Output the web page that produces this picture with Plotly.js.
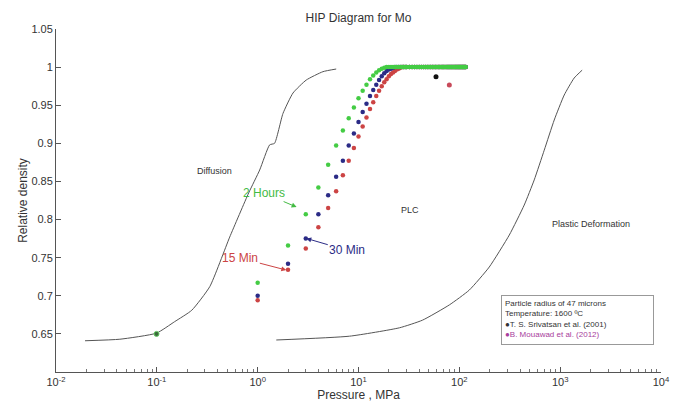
<!DOCTYPE html>
<html><head><meta charset="utf-8">
<script src="https://cdn.plot.ly/plotly-3.0.1.min.js"></script>
<style>html,body{margin:0;padding:0;background:#fff}</style>
</head><body><div id="chart" style="width:678px;height:408px"></div>
<script>
// Boundary curves (pressure in MPa, relative density)
const diffusionP = [0.0194, 0.043, 0.0993, 0.15, 0.222, 0.335, 0.528, 0.815, 1.047, 1.315, 1.47, 1.78, 2.24, 3.03, 4.44, 6.01];
const diffusionD = [0.641, 0.643, 0.651, 0.666, 0.681, 0.712, 0.777, 0.835, 0.865, 0.898, 0.900, 0.939, 0.966, 0.983, 0.994, 0.9975];
const plasticP = [1.53, 8.15, 25.5, 43.1, 79.6, 125.6, 198, 313, 440, 553, 695, 873, 1097, 1377, 1652];
const plasticD = [0.642, 0.647, 0.658, 0.668, 0.688, 0.7075, 0.7377, 0.7797, 0.819, 0.852, 0.891, 0.9306, 0.9634, 0.9857, 0.996];

// Computed densification points
const pressure = [1,2,3,4,5,6,7,8,9,10,11,12,13,14,15,16,17,18,19,20,21,22,23,24,25,26,27,28,29,30,
  32,34,36,38,40,42,44,46,48,50,52,54,56,58,60,62,64,66,68,70,72,74,76,78,80,82,84,86,88,90,92,94,96,98,100,102,104,106,108,110,112,114,116];
const density2h = [0.717,0.766,0.807,0.842,0.872,0.897,0.917,0.933,0.947,0.959,0.969,0.977,0.984,0.989,0.993,0.996,0.998,0.999,1,1,1,1,1,1,1,1,1,1,1,1,
  1,1,1,1,1,1,1,1,1,1,1,1,1,1,1,1,1,1,1,1,1,1,1,1,1,1,1,1,1,1,1,1,1,1,1,1,1,1,1,1,1,1,1];
const density30min = [0.700,0.742,0.775,0.807,0.832,0.856,0.877,0.897,0.913,0.928,0.941,0.952,0.962,0.970,0.977,0.983,0.988,0.992,0.995,0.997,0.998,0.999,1,1,1,1,1,1,1,1,
  1,1,1,1,1,1,1,1,1,1,1,1,1,1,1,1,1,1,1,1,1,1,1,1,1,1,1,1,1,1,1,1,1,1,1,1,1,1,1,1,1,1,1];
const density15min = [0.694,0.734,0.762,0.790,0.815,0.837,0.858,0.877,0.894,0.909,0.922,0.934,0.945,0.954,0.962,0.969,0.975,0.980,0.984,0.988,0.991,0.993,0.995,0.997,0.998,0.999,1,1,1,1,
  1,1,1,1,1,1,1,1,1,1,1,1,1,1,1,1,1,1,1,1,1,1,1,1,1,1,1,1,1,1,1,1,1,1,1,1,1,1,1,1,1,1,1];

// Experimental points
const srivatsanP = [58.7];
const srivatsanD = [0.9874];
const mouawadP = [79.6];
const mouawadD = [0.9765];
const lowP = [0.0993];
const lowD = [0.650];

// Axis ticks
const xTickVals = [0.01, 0.1, 1, 10, 100, 1000, 10000];
const xTickText = ['10<sup>-2</sup>', '10<sup>-1</sup>', '10<sup>0</sup>', '10<sup>1</sup>', '10<sup>2</sup>', '10<sup>3</sup>', '10<sup>4</sup>'];
const yTickVals = [0.65, 0.7, 0.75, 0.8, 0.85, 0.9, 0.95, 1, 1.05];
const yTickText = ['0.65', '0.7', '0.75', '0.8', '0.85', '0.9', '0.95', '1', '1.05'];

const FONT = 'Liberation Sans, Arial, sans-serif';
const lineStyle = {color: '#555', width: 1, shape: 'spline', smoothing: 0.5};

const traces = [
  {x: diffusionP, y: diffusionD, mode: 'lines', line: lineStyle, hoverinfo: 'skip'},
  {x: plasticP, y: plasticD, mode: 'lines', line: lineStyle, hoverinfo: 'skip'},
  {x: pressure, y: density15min, mode: 'markers', marker: {color: '#cc4444', size: 4.5}},
  {x: pressure, y: density30min, mode: 'markers', marker: {color: '#2b2b86', size: 4.5}},
  {x: pressure, y: density2h, mode: 'markers', marker: {color: '#44cc44', size: 4.5}},
  {x: srivatsanP, y: srivatsanD, mode: 'markers', marker: {color: '#111', size: 5}},
  {x: mouawadP, y: mouawadD, mode: 'markers', marker: {color: '#c84a5a', size: 5}},
  {x: lowP, y: lowD, mode: 'markers', marker: {color: '#3a6a3a', size: 5, line: {color: '#66cc66', width: 1}}}
];

const layout = {
  width: 678, height: 408,
  margin: {l: 56, r: 17, t: 29, b: 36},
  paper_bgcolor: '#fff', plot_bgcolor: '#fff',
  showlegend: false,
  font: {family: FONT, color: '#333', size: 11},
  title: {text: 'HIP Diagram for Mo', font: {size: 12, color: '#333'}, xref: 'paper', x: 0.5, xanchor: 'center', yref: 'container', y: 0.956, yanchor: 'middle'},
  xaxis: {
    type: 'log', range: [-2, 4],
    tickmode: 'array', tickvals: xTickVals, ticktext: xTickText,
    ticks: 'inside', ticklen: 5, tickcolor: '#555',
    minor: {ticks: 'inside', ticklen: 3, tickcolor: '#777', dtick: 'D1', showgrid: false},
    showline: true, linecolor: '#555', linewidth: 1,
    showgrid: false, zeroline: false,
    tickfont: {size: 11, color: '#333'},
    title: {text: 'Pressure , MPa', font: {size: 12, color: '#333'}, standoff: 2}
  },
  yaxis: {
    range: [0.6, 1.05],
    tickmode: 'array', tickvals: yTickVals, ticktext: yTickText,
    ticks: 'inside', ticklen: 5, tickcolor: '#555',
    showline: true, linecolor: '#555', linewidth: 1,
    showgrid: false, zeroline: false,
    tickfont: {size: 11, color: '#333'},
    title: {text: 'Relative density', font: {size: 12, color: '#333'}, standoff: 1}
  },
  annotations: [
    {x: -0.426, y: 0.864, xref: 'x', yref: 'y', text: 'Diffusion', showarrow: false, font: {size: 9, color: '#333'}},
    {x: 1.515, y: 0.8125, xref: 'x', yref: 'y', text: 'PLC', showarrow: false, font: {size: 9, color: '#333'}},
    {x: 3.307, y: 0.794, xref: 'x', yref: 'y', text: 'Plastic Deformation', showarrow: false, font: {size: 9, color: '#333'}},
    {x: 0.386, y: 0.8164, xref: 'x', yref: 'y', text: '2 Hours', showarrow: true, ax: -33, ay: -14,
     arrowhead: 2, arrowsize: 1, arrowwidth: 1, arrowcolor: '#44bb44', font: {size: 12, color: '#44bb44'}},
    {x: 0.482, y: 0.7753, xref: 'x', yref: 'y', text: '30 Min', showarrow: true, ax: 41, ay: 12,
     arrowhead: 2, arrowsize: 1, arrowwidth: 1, arrowcolor: '#2b2b86', font: {size: 12, color: '#2b2b86'}},
    {x: 0.284, y: 0.7337, xref: 'x', yref: 'y', text: '15 Min', showarrow: true, ax: -46, ay: -12,
     arrowhead: 2, arrowsize: 1, arrowwidth: 1, arrowcolor: '#cc4444', font: {size: 12, color: '#cc4444'}},
    {x: 0.7355, y: 0.2245, xref: 'paper', yref: 'paper', xanchor: 'left', yanchor: 'top',
     text: 'Particle radius of 47 microns<br>Temperature: 1600 ºC<br>●T. S. Srivatsan et al. (2001)<br><span style="color:#a8409c">●B. Mouawad et al. (2012)</span>',
     showarrow: false, align: 'left', valign: 'top', width: 145, height: 42,
     bordercolor: '#999', borderwidth: 1, borderpad: 3, bgcolor: '#fff',
     font: {size: 8, color: '#333'}}
  ]
};

Plotly.newPlot('chart', traces, layout, {displayModeBar: false, staticPlot: true});
</script></body></html>
